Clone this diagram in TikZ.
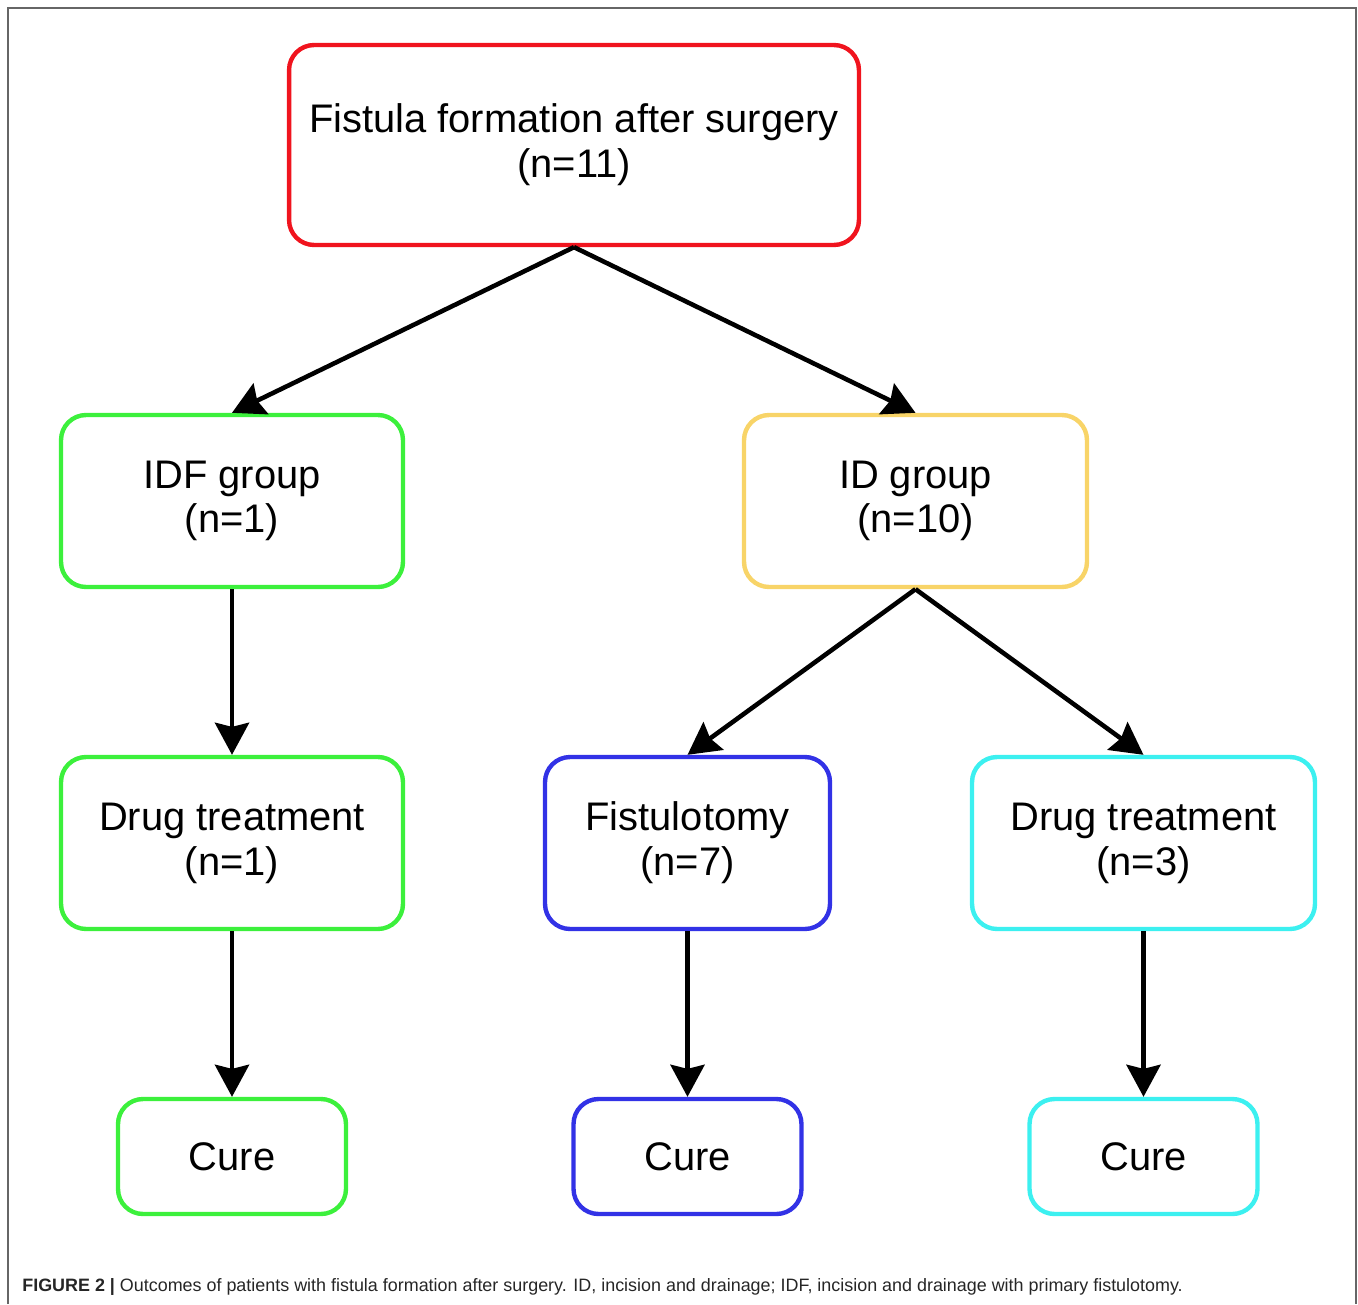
\documentclass[tikz,border=0pt]{standalone}
\usepackage{fontspec}
\setmainfont{Liberation Sans}
\usetikzlibrary{arrows.meta}
\definecolor{boxred}{HTML}{F0141E}
\definecolor{boxgreen}{HTML}{3CF03C}
\definecolor{boxyellow}{HTML}{F8D468}
\definecolor{boxblue}{HTML}{3232E6}
\definecolor{boxcyan}{HTML}{3CF0F0}
\begin{document}
\begin{tikzpicture}[x=0.02cm, y=-0.02cm,
    stage/.style={rectangle, draw, line width=2.5pt, rounded corners=0.5cm, fill=white, align=center, font=\fontsize{22.7}{25.5}\selectfont, inner sep=0pt},
    endbox/.style={stage, minimum width=4.56cm, minimum height=2.3cm},
    arrow/.style={-{Stealth[length=0.64cm, width=0.68cm, inset=0.08cm]}, line width=2.6pt}
]
    \useasboundingbox (0,0) rectangle (1358,1304);
    % Frame
    \draw[gray!80!black, line width=1.2pt] (8,1304) -- (8,8) -- (1356,8) -- (1356,1304);

    % Top: fistula formation
    \node[stage, draw=boxred, minimum width=11.4cm, minimum height=4cm] (fistula) at (574,145) {Fistula formation after surgery\\(n=11)};

    % Second row: groups
    \node[stage, draw=boxgreen, minimum width=6.84cm, minimum height=3.44cm] (idf) at (232,501) {IDF group\\(n=1)};
    \node[stage, draw=boxyellow, minimum width=6.86cm, minimum height=3.44cm] (id) at (915.5,501) {ID group\\(n=10)};

    % Third row: treatments
    \node[stage, draw=boxgreen, minimum width=6.84cm, minimum height=3.44cm] (drugA) at (232,843) {Drug treatment\\(n=1)};
    \node[stage, draw=boxblue, minimum width=5.7cm, minimum height=3.44cm] (fistulotomy) at (687.5,843) {Fistulotomy\\(n=7)};
    \node[stage, draw=boxcyan, minimum width=6.86cm, minimum height=3.44cm] (drugB) at (1143.5,843) {Drug treatment\\(n=3)};

    % Bottom row: outcomes
    \node[endbox, draw=boxgreen] (cureA) at (232,1156.5) {Cure};
    \node[endbox, draw=boxblue] (cureB) at (687.5,1156.5) {Cure};
    \node[endbox, draw=boxcyan] (cureC) at (1143.5,1156.5) {Cure};

    % Arrows
    \draw[arrow] (fistula.south) -- (idf.north);
    \draw[arrow] (fistula.south) -- (id.north);
    \draw[arrow] (idf.south) -- (drugA.north);
    \draw[arrow] (id.south) -- (fistulotomy.north);
    \draw[arrow] (id.south) -- (drugB.north);
    \draw[arrow] (drugA.south) -- (cureA.north);
    \draw[arrow] (fistulotomy.south) -- (cureB.north);
    \draw[arrow] (drugB.south) -- (cureC.north);

    % Caption
    \node[anchor=west, inner sep=0pt, font=\fontsize{10.2}{12}\selectfont, text=black!85] (caption) at (22,1287) {\textbf{FIGURE 2 |} Outcomes of patients with fistula formation after surgery. ID, incision and drainage; IDF, incision and drainage with primary fistulotomy.};
\end{tikzpicture}
\end{document}
